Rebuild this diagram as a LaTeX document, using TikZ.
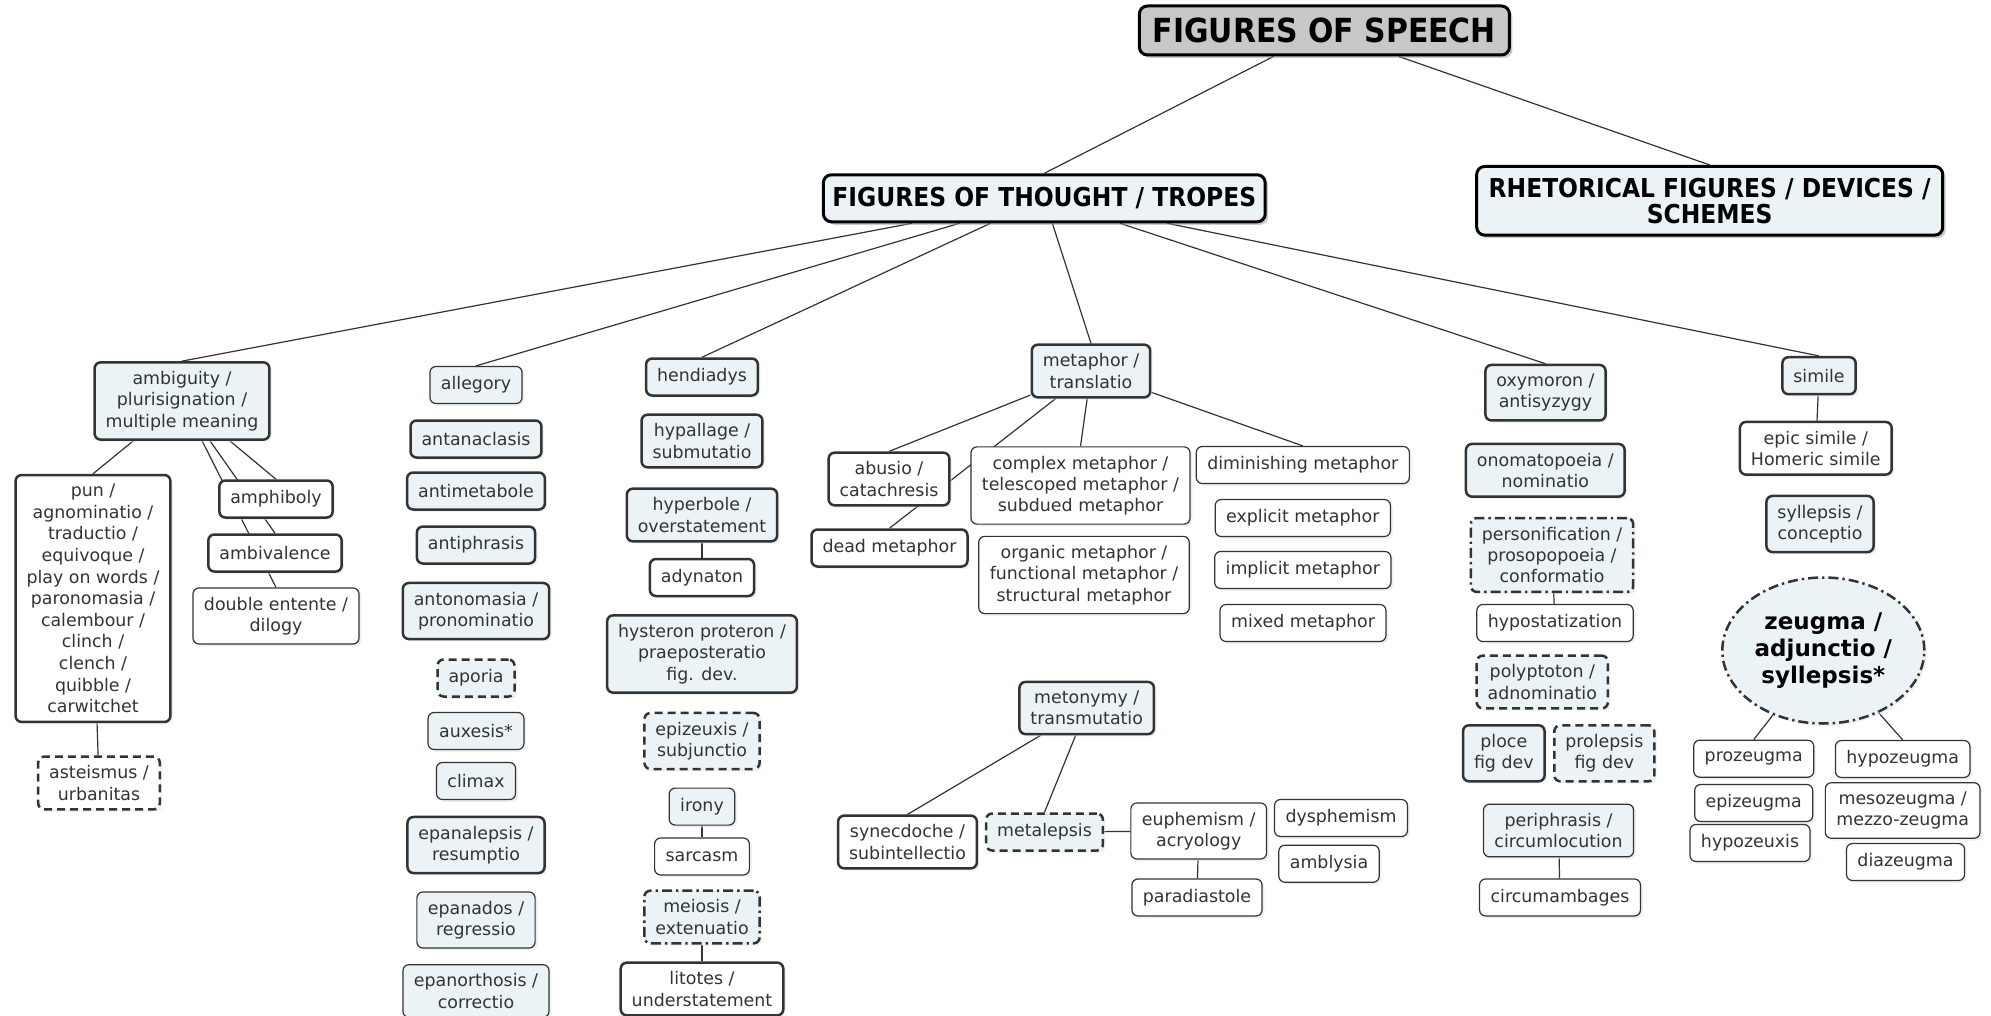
\documentclass[tikz,border=0pt]{standalone}
\usepackage{fontspec}
\setmainfont{DejaVu Sans}
\newfontfamily\headfont[FakeStretch=0.9]{DejaVu Sans}
\usepackage{tikz}
\usetikzlibrary{shapes.geometric,shadows}

\definecolor{tint}{HTML}{ECF3F6}
\definecolor{ink}{HTML}{333333}
\definecolor{shadowgray}{HTML}{DCE3E6}
\definecolor{headgray}{HTML}{C8C8C8}

\pgfdeclarelayer{background}
\pgfsetlayers{background,main}

\tikzset{
  fig/.style={rounded corners=3pt, draw=ink, line width=0.6pt, fill=white, text=ink,
    align=center, inner xsep=5.5pt, inner ysep=4.5pt, minimum height=18.5pt,
    font=\fontsize{8.7}{10.6}\selectfont,
    drop shadow={shadow xshift=1.2pt, shadow yshift=-1.2pt, fill=shadowgray}},
  figthick/.style={fig, line width=1.25pt},
  tinted/.style={fill=tint},
  dashedline/.style={line width=1.25pt, dash pattern=on 4pt off 2.5pt},
  dashdotline/.style={line width=1.25pt, dash pattern=on 5pt off 2pt on 1.2pt off 2pt},
  head/.style={rounded corners=4pt, draw=black, line width=1.5pt, fill=tint, text=black,
    align=center, inner xsep=6pt, inner ysep=5.75pt,
    font=\headfont\fontsize{13}{13}\selectfont\bfseries,
    drop shadow={shadow xshift=1.5pt, shadow yshift=-1.5pt, fill=black!40}},
  link/.style={draw=ink, line width=0.6pt}
}

\begin{document}
\begin{tikzpicture}[x=0.5pt, y=-0.5pt]
    \useasboundingbox (0,0) rectangle (1991,1016);

    % Top
    \node[head, fill=headgray, minimum height=24.5pt, inner xsep=6.75pt,
      font=\headfont\fontsize{16.6}{18}\selectfont\bfseries] (fos) at (1324.4,30.5) {FIGURES OF SPEECH};
    \node[head, minimum height=23.5pt, inner xsep=4.5pt] (tropes) at (1044.3,198.3) {FIGURES OF THOUGHT / TROPES};
    \node[head] (schemes) at (1709.7,200.8) {RHETORICAL FIGURES / DEVICES /\\ SCHEMES};

    % Ambiguity
    \node[figthick, tinted] (ambig) at (182,401) {ambiguity /\\ plurisignation /\\ multiple meaning};
    \node[figthick, font=\fontsize{8.7}{10.8}\selectfont] (pun) at (93,598.5) {pun /\\ agnominatio /\\ traductio /\\ equivoque /\\ play on words /\\ paronomasia /\\ calembour /\\ clinch /\\ clench /\\ quibble /\\ carwitchet};
    \node[fig, dashedline] (asteismus) at (99,783) {asteismus /\\ urbanitas};
    \node[figthick] (amphiboly) at (276,499) {amphiboly};
    \node[figthick] (ambivalence) at (275,553) {ambivalence};
    \node[fig] (entente) at (276,616) {double entente /\\ dilogy};

    % Allegory column
    \node[fig, tinted] (allegory) at (476,385) {allegory};
    \node[figthick, tinted] (antanaclasis) at (476,439) {antanaclasis};
    \node[figthick, tinted] (antimetabole) at (476,491) {antimetabole};
    \node[figthick, tinted] (antiphrasis) at (476,545) {antiphrasis};
    \node[figthick, tinted] (antonomasia) at (476,611) {antonomasia /\\ pronominatio};
    \node[fig, tinted, dashedline] (aporia) at (476,678) {aporia};
    \node[fig, tinted] (auxesis) at (476,731) {auxesis*};
    \node[fig, tinted] (climax) at (476,781) {climax};
    \node[figthick, tinted] (epanalepsis) at (476,845) {epanalepsis /\\ resumptio};
    \node[fig, tinted] (epanados) at (476,920) {epanados /\\ regressio};
    \node[fig, tinted] (epanorthosis) at (476,991) {epanorthosis /\\ correctio};

    % Hendiadys column
    \node[figthick, tinted] (hendiadys) at (702,377) {hendiadys};
    \node[figthick, tinted] (hypallage) at (702,441) {hypallage /\\ submutatio};
    \node[figthick, tinted] (hyperbole) at (702,515) {hyperbole /\\ overstatement};
    \node[figthick] (adynaton) at (702,577.5) {adynaton};
    \node[figthick, tinted] (hysteron) at (702,654) {hysteron proteron /\\ praeposteratio\\ fig. dev.};
    \node[fig, tinted, dashedline] (epizeuxis) at (702,741) {epizeuxis /\\ subjunctio};
    \node[fig, tinted] (irony) at (702,806.6) {irony};
    \node[fig] (sarcasm) at (702,856.5) {sarcasm};
    \node[fig, tinted, dashdotline] (meiosis) at (702,917) {meiosis /\\ extenuatio};
    \node[figthick] (litotes) at (702,989) {litotes /\\ understatement};

    % Metaphor
    \node[figthick, tinted] (metaphor) at (1091,371) {metaphor /\\ translatio};
    \node[figthick] (abusio) at (889,479) {abusio /\\ catachresis};
    \node[figthick] (deadmet) at (889.5,548) {dead metaphor};
    \node[fig] (complex) at (1080.5,485.5) {complex metaphor /\\ telescoped metaphor /\\ subdued metaphor};
    \node[fig] (organic) at (1084,575) {organic metaphor /\\ functional metaphor /\\ structural metaphor};
    \node[fig] (diminishing) at (1302.8,465) {diminishing metaphor};
    \node[fig] (explicit) at (1302.8,518) {explicit metaphor};
    \node[fig] (implicit) at (1302.8,570) {implicit metaphor};
    \node[fig] (mixed) at (1303,623) {mixed metaphor};

    % Metonymy
    \node[figthick, tinted] (metonymy) at (1086.7,708) {metonymy /\\ transmutatio};
    \node[figthick] (synecdoche) at (907.5,842) {synecdoche /\\ subintellectio};
    \node[fig, tinted, dashedline] (metalepsis) at (1044.5,832) {metalepsis};
    \node[fig] (euphemism) at (1198.7,831) {euphemism /\\ acryology};
    \node[fig] (paradiastole) at (1197,897.5) {paradiastole};
    \node[fig] (dysphemism) at (1341,818) {dysphemism};
    \node[fig] (amblysia) at (1329,863.7) {amblysia};

    % Oxymoron column
    \node[figthick, tinted] (oxymoron) at (1545.5,392.7) {oxymoron /\\ antisyzygy};
    \node[figthick, tinted] (onomatopoeia) at (1545.3,470.3) {onomatopoeia /\\ nominatio};
    \node[fig, tinted, dashdotline] (personification) at (1552,555) {personification /\\ prosopopoeia /\\ conformatio};
    \node[fig] (hypostatization) at (1555,623) {hypostatization};
    \node[fig, tinted, dashedline] (polyptoton) at (1542.3,682) {polyptoton /\\ adnominatio};
    \node[figthick, tinted] (ploce) at (1503.8,753.3) {ploce\\ fig dev};
    \node[fig, tinted, dashedline] (prolepsis) at (1604.3,753.3) {prolepsis\\ fig dev};
    \node[fig, tinted] (periphrasis) at (1558.5,830.5) {periphrasis /\\ circumlocution};
    \node[fig] (circumambages) at (1560,897.5) {circumambages};

    % Simile column
    \node[figthick, tinted] (simile) at (1819,375.7) {simile};
    \node[figthick] (epicsimile) at (1815.8,448.3) {epic simile /\\ Homeric simile};
    \node[figthick, tinted] (syllepsis) at (1820,524) {syllepsis /\\ conceptio};
    \node[fig, tinted, dashdotline, ellipse, text=black, inner sep=0pt,
      minimum width=101pt, minimum height=73pt,
      font=\bfseries\fontsize{11.5}{13.3}\selectfont] (zeugma) at (1823.3,650.5) {zeugma /\\ adjunctio /\\ syllepsis*};
    \node[fig] (prozeugma) at (1753.7,758.7) {prozeugma};
    \node[fig] (epizeugma) at (1753.7,803) {epizeugma};
    \node[fig] (hypozeuxis) at (1750,843) {hypozeuxis};
    \node[fig] (hypozeugma) at (1902.7,759) {hypozeugma};
    \node[fig] (mesozeugma) at (1902.7,810.5) {mesozeugma /\\ mezzo-zeugma};
    \node[fig] (diazeugma) at (1905.5,862) {diazeugma};

    % Connectors
    \begin{pgfonlayer}{background}
    \draw[link] (fos) -- (tropes.north);
    \draw[link] (fos) -- (schemes.north);
    \draw[link] (tropes) -- (ambig.north);
    \draw[link] (tropes) -- (allegory.north);
    \draw[link] (tropes) -- (hendiadys.north);
    \draw[link] (tropes) -- (metaphor.north);
    \draw[link] (tropes) -- (oxymoron.north);
    \draw[link] (tropes) -- (simile.north);
    \draw[link] (ambig) -- (pun.north);
    \draw[link] (ambig) -- (amphiboly.north);
    \draw[link] (ambig) -- (ambivalence.north);
    \draw[link] (ambig) -- (entente.north);
    \draw[link] (pun) -- (asteismus);
    \draw[link] (hyperbole) -- (adynaton);
    \draw[link] (irony) -- (sarcasm);
    \draw[link] (meiosis) -- (litotes);
    \draw[link] (metaphor) -- (abusio.north);
    \draw[link] (metaphor) -- (deadmet.north);
    \draw[link] (metaphor) -- (complex.north);
    \draw[link] (metaphor) -- (diminishing.north);
    \draw[link] (metonymy) -- (synecdoche.north);
    \draw[link] (metonymy) -- (metalepsis.north);
    \draw[link] (metalepsis) -- (euphemism);
    \draw[link] (euphemism) -- (paradiastole);
    \draw[link] (personification) -- (hypostatization);
    \draw[link] (periphrasis) -- (circumambages);
    \draw[link] (simile) -- (epicsimile);
    \draw[link] (zeugma) -- (prozeugma.north);
    \draw[link] (zeugma) -- (hypozeugma.north);
    \end{pgfonlayer}
\end{tikzpicture}
\end{document}
